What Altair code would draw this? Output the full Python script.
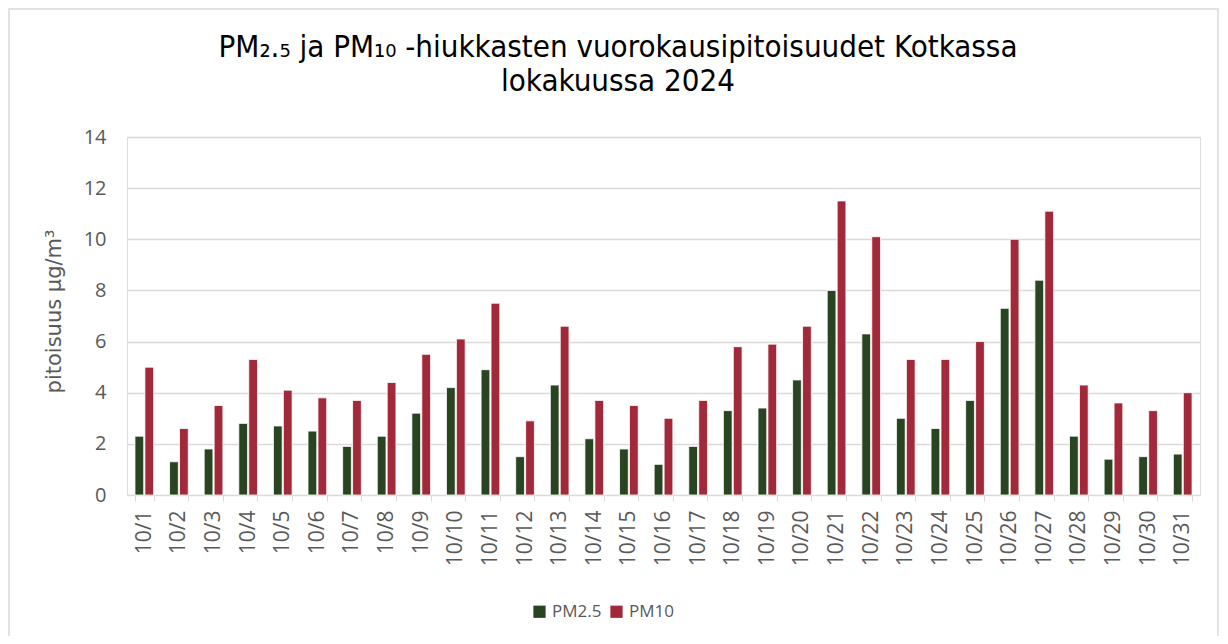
import altair as alt
import pandas as pd

days = [f"10/{d}" for d in range(1, 32)]
pm25 = [2.3, 1.3, 1.8, 2.8, 2.7, 2.5, 1.9, 2.3, 3.2, 4.2, 4.9, 1.5, 4.3, 2.2, 1.8, 1.2,
        1.9, 3.3, 3.4, 4.5, 8.0, 6.3, 3.0, 2.6, 3.7, 7.3, 8.4, 2.3, 1.4, 1.5, 1.6]
pm10 = [5.0, 2.6, 3.5, 5.3, 4.1, 3.8, 3.7, 4.4, 5.5, 6.1, 7.5, 2.9, 6.6, 3.7, 3.5, 3.0,
        3.7, 5.8, 5.9, 6.6, 11.5, 10.1, 5.3, 5.3, 6.0, 10.0, 11.1, 4.3, 3.6, 3.3, 4.0]
series = ["PM2.5", "PM10"]
colors = ["#294421", "#A2293A"]
y_ticks = [0, 2, 4, 6, 8, 10, 12, 14]
title_lines = ["PM₂.₅ ja PM₁₀ -hiukkasten vuorokausipitoisuudet Kotkassa", "lokakuussa 2024"]

rows = []
for d, a, b in zip(days, pm25, pm10):
    rows.append({"day": d, "series": "PM2.5", "value": a})
    rows.append({"day": d, "series": "PM10", "value": b})
df = pd.DataFrame(rows)

W, H = 1073, 358
PL, PT, PR, PB = 119, 129, 20, 141

font = "Open Sans"
gray = "#595959"

bars = alt.Chart(df).mark_bar(stroke="white", strokeWidth=0.8).encode(
    x=alt.X("day:N", sort=days,
            scale=alt.Scale(paddingInner=0.46, paddingOuter=0.23),
            axis=alt.Axis(title=None, labelAngle=-90, labelFont=font, labelFontSize=21,
                          labelColor=gray, labelPadding=9, tickBand="extent",
                          tickColor="#d9d9d9", tickSize=6, domainColor="#d9d9d9",
                          labelAlign="right", labelBaseline="middle")),
    xOffset=alt.XOffset("series:N", sort=series, scale=alt.Scale(paddingInner=0.12)),
    y=alt.Y("value:Q", scale=alt.Scale(domain=[0, 14]),
            axis=alt.Axis(values=y_ticks, title="pitoisuus µg/m³", labelFont=font,
                          labelFontSize=20, labelColor=gray, ticks=False, domain=False,
                          labelPadding=21, gridColor="#d9d9d9", gridWidth=1.3,
                          titleFont="DejaVu Sans", titleFontSize=21, titleFontWeight="normal",
                          titleColor=gray, titleX=-73, titleY=174,
                          titleBaseline="middle", titleAngle=-90)),
    color=alt.Color("series:N", sort=series,
                    scale=alt.Scale(domain=series, range=colors),
                    legend=alt.Legend(title=None, orient="none", direction="horizontal",
                                      legendX=404, legendY=466, symbolType="square",
                                      symbolSize=150, symbolStrokeWidth=0,
                                      labelFont=font, labelFontSize=17, labelColor=gray,
                                      columnPadding=6)),
)

title = alt.Chart(pd.DataFrame({"k": [0]})).mark_text(
    text=title_lines, font="DejaVu Sans Condensed", fontSize=31, color="#000000",
    align="center", baseline="middle", lineHeight=34,
).encode(x=alt.value(491), y=alt.value(-89))

border = alt.Chart(pd.DataFrame({"k": [0]})).mark_rect(
    fill=None, stroke="#d9d9d9", strokeWidth=1.5
).encode(
    x=alt.value(-PL + 1), x2=alt.value(W + PR - 2),
    y=alt.value(-PT + 1), y2=alt.value(H + PB + 10),
)

chart = alt.layer(border, title, bars).properties(
    width=W, height=H,
    autosize=alt.AutoSizeParams(type="none"),
    padding={"left": PL, "top": PT, "right": PR, "bottom": PB},
).configure_view(stroke=None).configure(background="white")

chart.save("out.html", embed_options={"renderer": "svg", "actions": False})
